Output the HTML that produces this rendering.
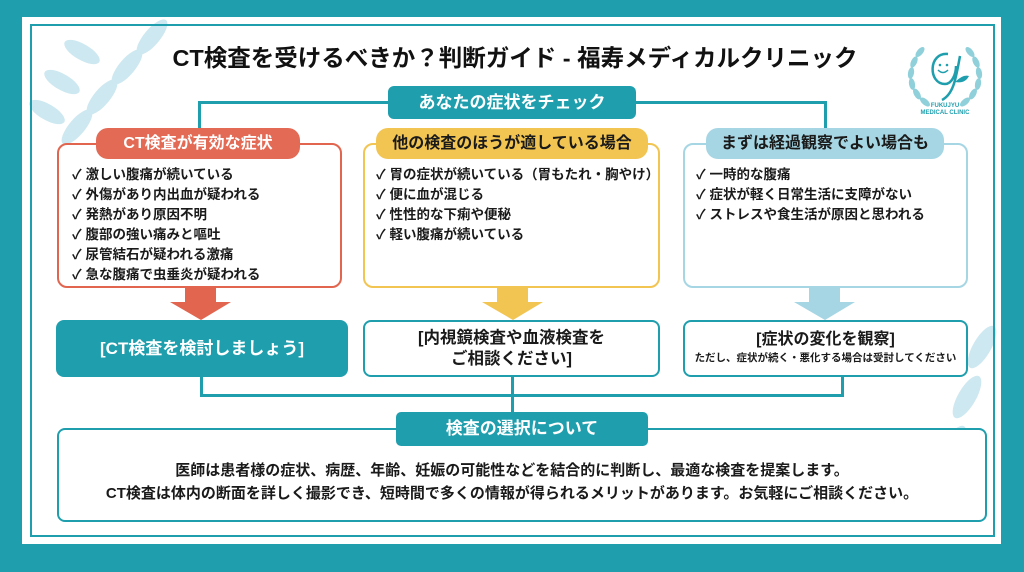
<!DOCTYPE html>
<html><head><meta charset="utf-8"><style>
*{margin:0;padding:0;box-sizing:border-box}
body{width:1024px;height:572px;background:#1f9fae;position:relative;overflow:hidden;font-family:"Liberation Sans","Noto Sans CJK JP",sans-serif;font-weight:bold;color:#1a1a1a}
.abs{position:absolute}
.panel{left:22px;top:17px;width:979px;height:527px;background:#fff}
.inner{left:30px;top:24px;width:965px;height:513px;border:2px solid #1f9fae}
.title{left:0;width:1024px;top:39px;text-align:center;font-size:23.5px;color:#111;padding-left:6px}
.line{background:#1f9fae}
.pill{border-radius:12px;text-align:center;font-size:16px}
.box{border:2.5px solid;border-radius:10px;background:#fff}
.list{font-size:13.5px;line-height:20px}
.b2{border:2.5px solid #1f9fae;border-radius:8px;background:#fff;text-align:center}
</style></head><body>
<div class="abs panel"></div>
<svg class="abs" style="left:22px;top:17px" width="979" height="527">
<g fill="#cde8f0">
<ellipse cx="130" cy="20" rx="8" ry="22" transform="rotate(40 130 20)"/>
<ellipse cx="105" cy="50" rx="8" ry="22" transform="rotate(40 105 50)"/>
<ellipse cx="80" cy="80" rx="8" ry="22" transform="rotate(40 80 80)"/>
<ellipse cx="55" cy="110" rx="8" ry="22" transform="rotate(40 55 110)"/>
<ellipse cx="60" cy="35" rx="8" ry="20" transform="rotate(-60 60 35)"/>
<ellipse cx="40" cy="65" rx="8" ry="20" transform="rotate(-60 40 65)"/>
<ellipse cx="25" cy="95" rx="8" ry="20" transform="rotate(-60 25 95)"/>
<ellipse cx="960" cy="330" rx="9" ry="24" transform="rotate(30 960 330)"/>
<ellipse cx="945" cy="380" rx="9" ry="24" transform="rotate(30 945 380)"/>
<ellipse cx="930" cy="430" rx="9" ry="24" transform="rotate(30 930 430)"/>
<ellipse cx="915" cy="480" rx="9" ry="24" transform="rotate(30 915 480)"/>
</g></svg>
<div class="abs inner"></div>
<div class="abs title">CT検査を受けるべきか？判断ガイド - 福寿メディカルクリニック</div>
<svg class="abs" style="left:900px;top:32px" width="90" height="85">
<g fill="#8fd0da">
<ellipse cx="20" cy="20" rx="3" ry="6" transform="rotate(40 20 20)"/><ellipse cx="14" cy="30" rx="3" ry="6" transform="rotate(25 14 30)"/><ellipse cx="11" cy="41" rx="3" ry="6" transform="rotate(10 11 41)"/><ellipse cx="12" cy="52" rx="3" ry="6" transform="rotate(-10 12 52)"/><ellipse cx="17" cy="62" rx="3" ry="6" transform="rotate(-30 17 62)"/><ellipse cx="25" cy="70" rx="3" ry="6" transform="rotate(-50 25 70)"/>
<ellipse cx="70" cy="20" rx="3" ry="6" transform="rotate(-40 70 20)"/><ellipse cx="76" cy="30" rx="3" ry="6" transform="rotate(-25 76 30)"/><ellipse cx="79" cy="41" rx="3" ry="6" transform="rotate(-10 79 41)"/><ellipse cx="78" cy="52" rx="3" ry="6" transform="rotate(10 78 52)"/><ellipse cx="73" cy="62" rx="3" ry="6" transform="rotate(30 73 62)"/><ellipse cx="65" cy="70" rx="3" ry="6" transform="rotate(50 65 70)"/>
</g>
<path d="M48 22 C28 20 28 52 45 52 C52 52 56 42 56 34 M60 24 C56 45 54 62 42 68" stroke="#1f9fae" stroke-width="2.5" fill="none"/>
<path d="M55 50 q8-8 14-6 q-4 8-14 6z" fill="#1f9fae"/>
<circle cx="40" cy="33" r="1.3" fill="#1f9fae"/><circle cx="47" cy="33" r="1.3" fill="#1f9fae"/>
<path d="M38 38 q5 5 10 0" stroke="#1f9fae" stroke-width="1.5" fill="none"/>
<text x="45" y="75" font-size="6" text-anchor="middle" fill="#1f9fae" font-family="Liberation Sans">FUKUJYU</text>
<text x="45" y="82" font-size="6" text-anchor="middle" fill="#1f9fae" font-family="Liberation Sans">MEDICAL CLINIC</text>
</svg>
<div class="abs line" style="left:198px;top:101px;width:629px;height:3px"></div>
<div class="abs line" style="left:198px;top:101px;width:3px;height:30px"></div>
<div class="abs line" style="left:824px;top:101px;width:3px;height:30px"></div>
<div class="abs pill" style="left:388px;top:86px;width:248px;height:33px;background:#1f9fae;color:#fff;border-radius:6px;font-size:17px;line-height:33px">あなたの症状をチェック</div>
<div class="abs box" style="left:57px;top:143px;width:285px;height:145px;border-color:#e2654f"></div>
<div class="abs box" style="left:363px;top:143px;width:297px;height:145px;border-color:#f2c553"></div>
<div class="abs box" style="left:683px;top:143px;width:285px;height:145px;border-color:#a6d6e4"></div>
<div class="abs pill" style="left:96px;top:128px;width:204px;height:31px;line-height:31px;background:#e36a55;color:#fff">CT検査が有効な症状</div>
<div class="abs pill" style="left:376px;top:128px;width:272px;height:31px;line-height:31px;background:#f2c553">他の検査のほうが適している場合</div>
<div class="abs pill" style="left:706px;top:128px;width:238px;height:31px;line-height:31px;background:#a6d6e4">まずは経過観察でよい場合も</div>
<div class="abs list" style="left:72px;top:165px">✓ 激しい腹痛が続いている<br>✓ 外傷があり内出血が疑われる<br>✓ 発熱があり原因不明<br>✓ 腹部の強い痛みと嘔吐<br>✓ 尿管結石が疑われる激痛<br>✓ 急な腹痛で虫垂炎が疑われる</div>
<div class="abs list" style="left:376px;top:165px">✓ 胃の症状が続いている（胃もたれ・胸やけ）<br>✓ 便に血が混じる<br>✓ 性性的な下痢や便秘<br>✓ 軽い腹痛が続いている</div>
<div class="abs list" style="left:696px;top:165px">✓ 一時的な腹痛<br>✓ 症状が軽く日常生活に支障がない<br>✓ ストレスや食生活が原因と思われる</div>
<svg class="abs" style="left:0;top:286px" width="1024" height="36">
<path d="M185 0h31v16h15l-30 18-31-18h15z" fill="#e2654f"/>
<path d="M497 0h31v16h15l-30 18-31-18h15z" fill="#f2c553"/>
<path d="M809 0h31v16h15l-30 18-31-18h15z" fill="#a6d6e4"/>
</svg>
<div class="abs line" style="left:200px;top:375px;width:3px;height:22px"></div>
<div class="abs line" style="left:511px;top:375px;width:3px;height:40px"></div>
<div class="abs line" style="left:841px;top:375px;width:3px;height:22px"></div>
<div class="abs line" style="left:200px;top:394px;width:644px;height:3px"></div>
<div class="abs" style="left:56px;top:320px;width:292px;height:57px;background:#1f9fae;border-radius:8px;color:#fff;font-size:17px;line-height:57px;text-align:center">[CT検査を検討しましょう]</div>
<div class="abs b2" style="left:363px;top:320px;width:297px;height:57px;font-size:16.5px;line-height:21px;padding-top:6px">[内視鏡検査や血液検査を<br>ご相談ください]</div>
<div class="abs b2" style="left:683px;top:320px;width:285px;height:57px;font-size:16px;padding-top:7px;line-height:22px">[症状の変化を観察]<div style="font-size:10.5px;line-height:14px">ただし、症状が続く・悪化する場合は受討してください</div></div>
<div class="abs" style="left:57px;top:428px;width:930px;height:94px;border:2.5px solid #1f9fae;border-radius:8px;background:#fff"></div>
<div class="abs" style="left:396px;top:412px;width:252px;height:34px;background:#1f9fae;border-radius:5px;color:#fff;font-size:17px;line-height:34px;text-align:center">検査の選択について</div>
<div class="abs" style="left:47px;top:459px;width:930px;text-align:center;font-size:15px;line-height:23px">医師は患者様の症状、病歴、年齢、妊娠の可能性などを結合的に判断し、最適な検査を提案します。<br>CT検査は体内の断面を詳しく撮影でき、短時間で多くの情報が得られるメリットがあります。お気軽にご相談ください。</div>
</body></html>
